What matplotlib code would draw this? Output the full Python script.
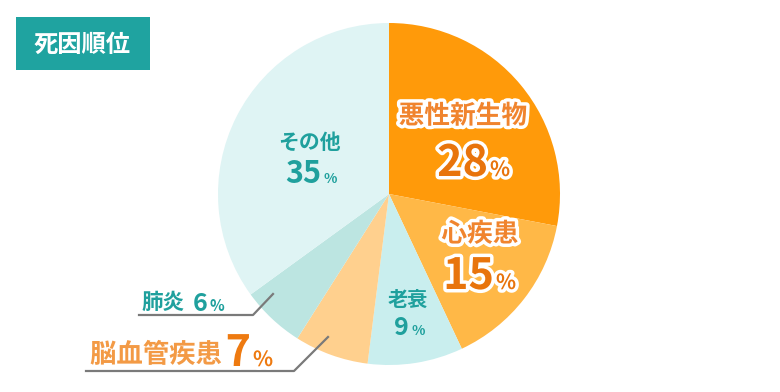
import matplotlib.pyplot as plt
import matplotlib.patches as patches
import matplotlib.patheffects as pe

plt.rcParams['font.family'] = ['Noto Sans CJK JP', 'DejaVu Sans']

# data
causes = ['悪性新生物', '心疾患', '老衰', '脳血管疾患', '肺炎', 'その他']
shares = [28, 15, 9, 7, 6, 35]
colors = ['#FF9A0A', '#FFB847', '#C9EEEE', '#FFD08E', '#BCE5E1', '#DFF4F4']
title = '死因順位'

TEAL = '#1FA09D'
ORANGE = '#F0842E'
DARK_ORANGE = '#E8740C'

fig = plt.figure(figsize=(7.8, 3.92), dpi=100)
ax = fig.add_axes([0, 0, 1, 1])

# y axis is inverted, so start at -90 and go "counterclockwise" to get clockwise from top
ax.pie(shares, colors=colors, startangle=-90, counterclock=True,
       center=(389, 194), radius=171, wedgeprops=dict(linewidth=0),
       frame=True)
ax.set_xlim(0, 780)
ax.set_ylim(392, 0)
ax.set_aspect('equal')
ax.axis('off')

# title badge
ax.add_patch(patches.Rectangle((16, 17), 134, 53, facecolor='#1FA3A0', edgecolor='none'))
ax.text(82, 45, title, color='white', fontsize=17.5, fontweight='bold',
        ha='center', va='center')

white = [pe.withStroke(linewidth=5, foreground='white')]


def label(x, y, txt, size, color, fx=None):
    ax.text(x, y, txt, fontsize=size, fontweight='bold', color=color,
            ha='center', va='center', path_effects=fx)


def number(x, y, val, size, psize, color, fx=None):
    ax.text(x, y, str(val), fontsize=size, fontweight='bold', color=color,
            ha='right', va='baseline', path_effects=fx)
    ax.text(x + 2, y, '%', fontsize=psize, fontweight='bold', color=color,
            ha='left', va='baseline', path_effects=fx)


# 悪性新生物
label(463, 116, causes[0], 18.5, ORANGE, white)
number(488, 176, shares[0], 31, 15, DARK_ORANGE, white)
# 心疾患
label(480, 234, causes[1], 18.5, ORANGE, white)
number(494, 289, shares[1], 31, 15, DARK_ORANGE, white)
# 老衰
label(408, 299, causes[2], 14.5, TEAL)
number(409, 335, shares[2], 18, 10, TEAL)
# その他
label(309, 142, causes[5], 15, TEAL)
number(321, 183, shares[5], 22, 10, TEAL)

# 肺炎 (outside with leader)
ax.text(141, 302, causes[4], fontsize=15.5, fontweight='bold', color=TEAL,
        ha='left', va='center')
number(207, 311, shares[4], 18, 11, TEAL)
ax.plot([139, 253, 273], [315, 315, 294], color='#7A7A7A', lw=1.6)

# 脳血管疾患 (outside with leader)
ax.text(90, 355, causes[3], fontsize=19, fontweight='bold', color='#F39A45',
        ha='left', va='center', path_effects=white)
number(251, 366, shares[3], 31, 15, '#EE7A10', white)
ax.plot([86, 294, 328], [371, 371, 337], color='#7A7A7A', lw=1.6)

fig.savefig('out.png', dpi=100)
